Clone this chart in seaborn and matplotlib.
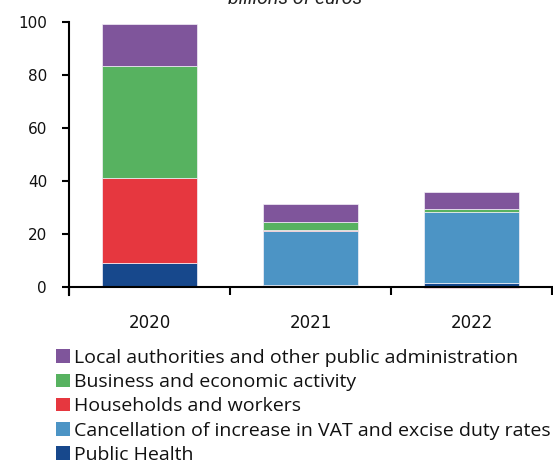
import matplotlib
matplotlib.use("Agg")
import matplotlib.pyplot as plt
from matplotlib.patches import Patch
import numpy as np
import pandas as pd
import seaborn as sns

# Fiscal support measures by year, billions of euros
years = ["2020", "2021", "2022"]
public_health = [9.1, 0.9, 1.6]
vat_excise = [0.0, 20.2, 26.7]
households = [32.2, 0.5, -0.3]
business = [41.9, 2.9, 1.2]
local_admin = [15.9, 6.9, 6.4]

series_names = [
    "Public Health",
    "Cancellation of increase in VAT and excise duty rates",
    "Households and workers",
    "Business and economic activity",
    "Local authorities and other public administration",
]
series_values = [public_health, vat_excise, households, business, local_admin]
series_colors = ["#17488C", "#4C94C5", "#E6373F", "#57B260", "#7F559B"]

sns.set_theme(style="white")
plt.rcParams["font.family"] = ["Open Sans", "DejaVu Sans"]

fig = plt.figure(figsize=(5.53, 4.63), dpi=100)
ax = fig.add_axes([0.1253, 0.3629, 0.873, 0.5903])

pos_base = np.zeros(len(years))
neg_base = np.zeros(len(years))
for name, vals, col in zip(series_names, series_values, series_colors):
    vals = np.asarray(vals, dtype=float)
    bottom = np.where(vals >= 0, pos_base, neg_base)
    df = pd.DataFrame({"year": years, "value": vals})
    sns.barplot(data=df, x="year", y="value", bottom=bottom, color=col,
                width=0.59, edgecolor="#f4f0f8", linewidth=0.5, saturation=1,
                ax=ax)
    pos_base = pos_base + np.clip(vals, 0, None)
    neg_base = neg_base + np.clip(vals, None, 0)

ax.set_xlim(-0.5, 2.5)
ax.set_ylim(-2.9, 100)
ax.set_xlabel("")
ax.set_ylabel("")

for side in ["top", "right"]:
    ax.spines[side].set_visible(False)
for side in ["left", "bottom"]:
    ax.spines[side].set_color("black")
    ax.spines[side].set_linewidth(1.5)
ax.spines["bottom"].set_position(("data", 0))

tick_font = ["DejaVu Sans"]
ax.set_yticks([0, 20, 40, 60, 80, 100])
ax.set_yticklabels(["0", "20", "40", "60", "80", "100"], family=tick_font)
ax.tick_params(axis="y", direction="out", length=5, width=1.5, color="black",
               labelsize=11, pad=11, left=True, labelcolor="#111111")

# Category separators as major ticks, year labels as minor ticks
ax.set_xticks([-0.5, 0.5, 1.5, 2.5])
ax.set_xticklabels([])
ax.set_xticks([0, 1, 2], minor=True)
ax.set_xticklabels(years, minor=True, family=tick_font)
ax.tick_params(axis="x", which="major", direction="out", length=6, width=1.5,
               color="black", bottom=True)
ax.tick_params(axis="x", which="minor", length=0, labelsize=12, pad=19,
               labelcolor="#111111")

fig.text(295 / 553, 1 - 4 / 463, "billions of euros", ha="center",
         va="baseline", fontsize=14, style="italic",
         family=["Roboto", "DejaVu Sans"], color="#222222")

handles = [Patch(facecolor=c, edgecolor="none") for c in series_colors][::-1]
labels = series_names[::-1]
fig.legend(handles, labels, loc="upper left",
           bbox_to_anchor=(56 / 553, 1 - 349 / 463), frameon=False,
           fontsize=14, handlelength=0.7, handleheight=0.7,
           handletextpad=0.2, labelspacing=0.32, borderaxespad=0,
           borderpad=0, labelcolor="#111111")

fig.savefig("out.png", dpi=100)
